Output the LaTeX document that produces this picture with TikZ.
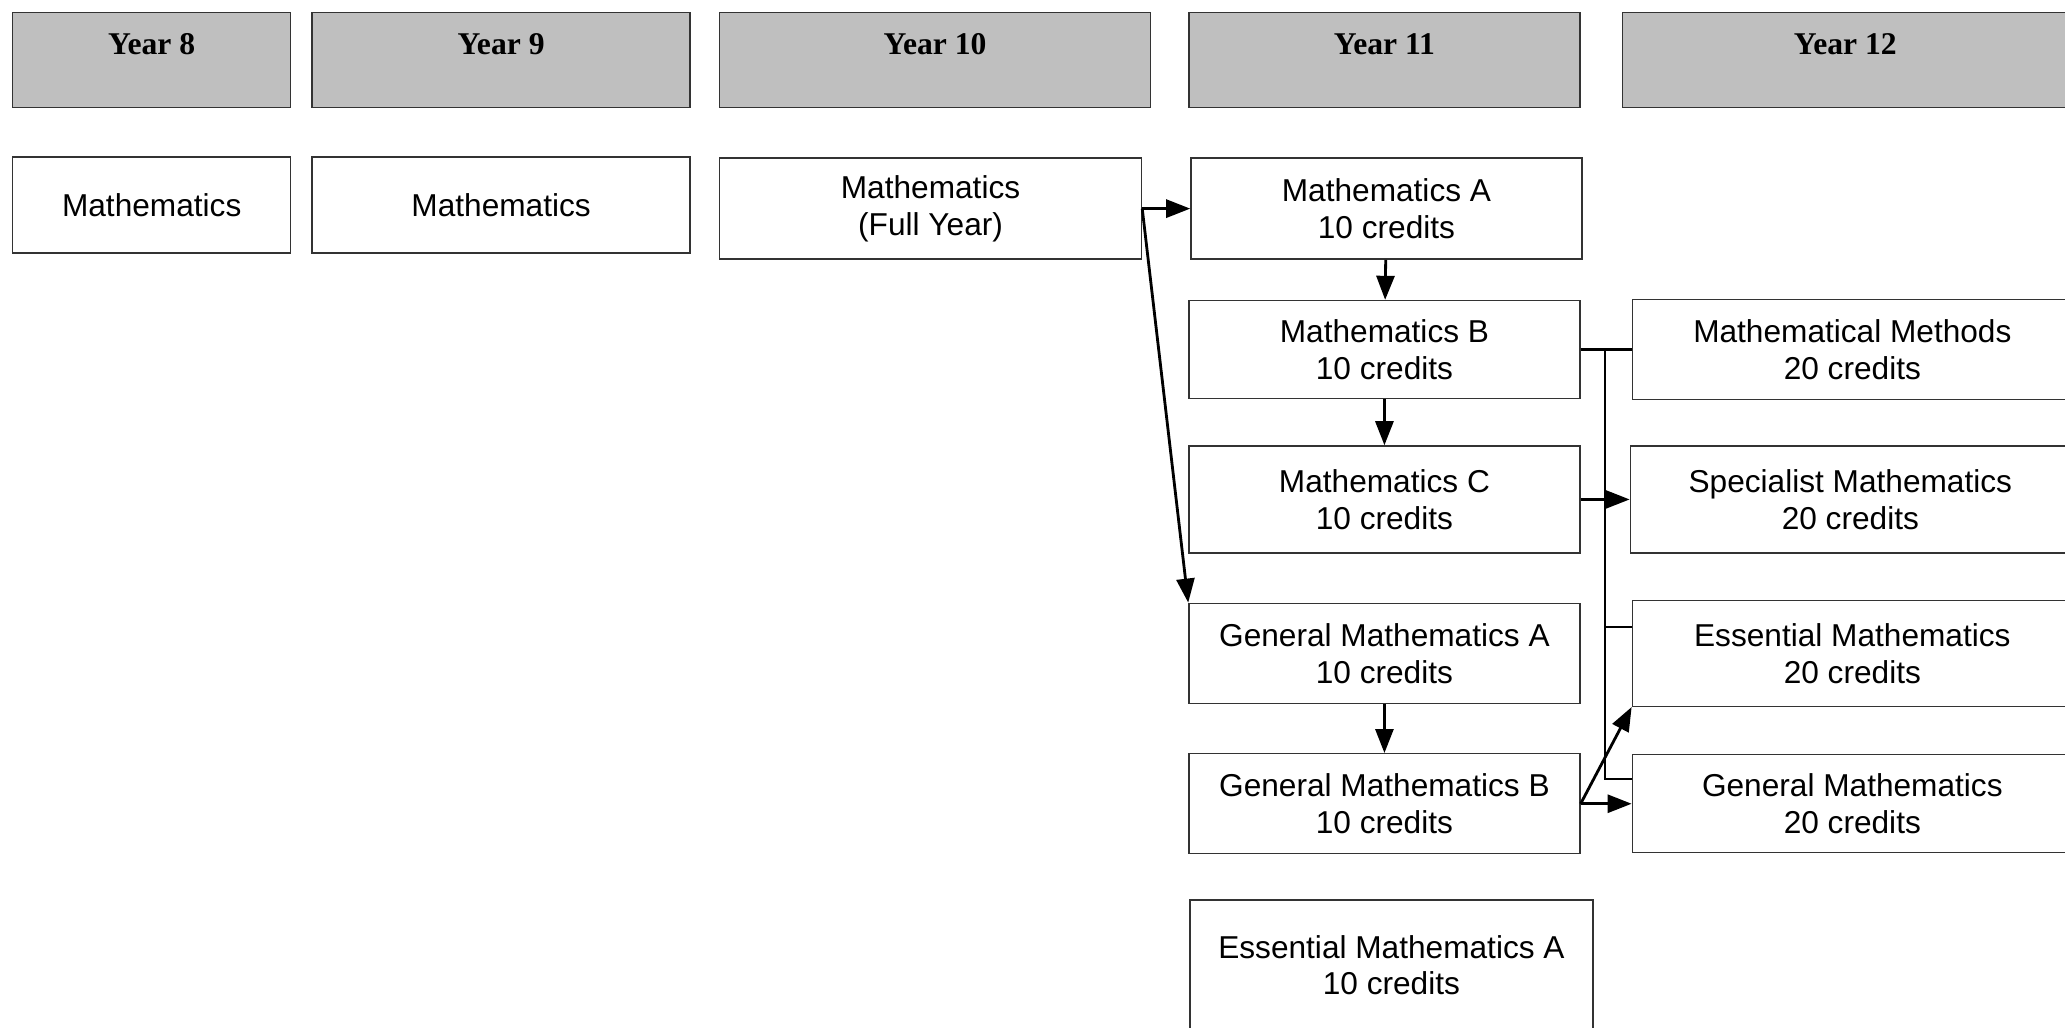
\documentclass[tikz,border=0pt]{standalone}
\usepackage{fontspec}
\setmainfont{Liberation Sans}
\newfontfamily\yearfont{Liberation Serif}
\usetikzlibrary{positioning, arrows.meta}

\begin{document}
\begin{tikzpicture}[
    font=\fontsize{9}{10.5}\selectfont,
    year/.style={
        draw=black!80,
        fill=black!25,
        font=\yearfont\bfseries\fontsize{9}{10.5}\selectfont,
        minimum height=0.95cm,
        inner ysep=0pt,
        text height=0.415cm,
        text depth=0.535cm
    },
    box/.style={
        draw=black!80,
        align=center,
        minimum width=3.91cm,
        minimum height=1cm
    },
    arrow/.style={
        -{Triangle[length=2.4mm, width=1.8mm]},
        line width=0.8pt
    },
    link/.style={
        line width=0.6pt
    }
]

\useasboundingbox (0,0) rectangle (20.65,-10.27);

% year headings
\node[year, minimum width=2.78cm, anchor=north west] (y8) at (0.12,-0.12) {Year 8};
\node[year, minimum width=3.78cm, right=0.20cm of y8] (y9) {Year 9};
\node[year, minimum width=4.31cm, right=0.28cm of y9] (y10) {Year 10};
\node[year, minimum width=3.91cm, right=0.37cm of y10] (y11) {Year 11};
\node[year, minimum width=4.46cm, right=0.41cm of y11] (y12) {Year 12};

% years 8 to 10
\node[box, minimum width=2.78cm, minimum height=0.96cm, below=0.48cm of y8] (m8) {Mathematics};
\node[box, minimum width=3.78cm, minimum height=0.96cm, below=0.48cm of y9] (m9) {Mathematics};

% year 11
\node[box, minimum height=1.01cm, below=0.49cm of y11, xshift=0.02cm] (ma) {Mathematics A\\10 credits};
\node[box, minimum width=4.22cm, minimum height=1.01cm, left=0.48cm of ma] (m10) {Mathematics\\(Full Year)};
\node[box, minimum height=0.98cm, below=0.40cm of ma, xshift=-0.02cm] (mb) {Mathematics B\\10 credits};
\node[box, minimum height=1.07cm, below=0.46cm of mb] (mc) {Mathematics C\\10 credits};
\node[box, below=0.49cm of mc] (gma) {General Mathematics A\\10 credits};
\node[box, below=0.49cm of gma] (gmb) {General Mathematics B\\10 credits};
\node[box, minimum width=4.03cm, minimum height=1.30cm, below=0.45cm of gmb, xshift=0.07cm] (ema) {Essential Mathematics A\\10 credits};

% year 12
\node[box, minimum width=4.40cm, right=0.51cm of mb] (mm) {Mathematical Methods\\20 credits};
\node[box, minimum width=4.40cm, minimum height=1.07cm, right=0.49cm of mc] (sm) {Specialist Mathematics\\20 credits};
\node[box, minimum width=4.40cm, minimum height=1.06cm, right=0.51cm of gma] (em) {Essential Mathematics\\20 credits};
\node[box, minimum width=4.40cm, minimum height=0.98cm, right=0.51cm of gmb] (gm) {General Mathematics\\20 credits};

% connectors
\coordinate[right=0.24cm of mb.east] (split);
\coordinate[above=0.26cm of em.west] (emin);
\coordinate[above=0.25cm of gm.west] (gmin);

\draw[arrow] (m10) -- (ma);
\draw[arrow] (m10.east) -- (gma.north west);
\draw[arrow] (ma) -- (mb);
\draw[arrow] (mb) -- (mc);
\draw[arrow] (gma) -- (gmb);
\draw[link] (mb) -- (mm);
\draw[link] (split) |- (gmin);
\draw[link] (split |- emin) -- (emin);
\draw[arrow] (mc) -- (sm);
\draw[arrow] (gmb) -- (gm);
\draw[arrow] (gmb.east) -- (em.south west);

\end{tikzpicture}
\end{document}
